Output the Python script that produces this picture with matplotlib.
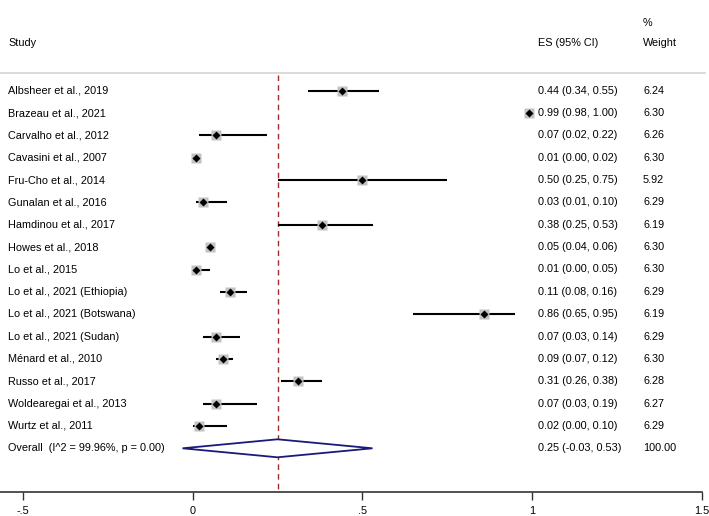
import matplotlib.pyplot as plt
import matplotlib.transforms as mtransforms
from matplotlib.patches import Polygon

# data
studies = ["Albsheer et al., 2019", "Brazeau et al., 2021", "Carvalho et al., 2012",
           "Cavasini et al., 2007", "Fru-Cho et al., 2014", "Gunalan et al., 2016",
           "Hamdinou et al., 2017", "Howes et al., 2018", "Lo et al., 2015",
           "Lo et al., 2021 (Ethiopia)", "Lo et al., 2021 (Botswana)", "Lo et al., 2021 (Sudan)",
           "Ménard et al., 2010", "Russo et al., 2017", "Woldearegai et al., 2013",
           "Wurtz et al., 2011"]
es = [0.44, 0.99, 0.07, 0.01, 0.50, 0.03, 0.38, 0.05, 0.01, 0.11, 0.86, 0.07, 0.09, 0.31, 0.07, 0.02]
lo = [0.34, 0.98, 0.02, 0.00, 0.25, 0.01, 0.25, 0.04, 0.00, 0.08, 0.65, 0.03, 0.07, 0.26, 0.03, 0.00]
hi = [0.55, 1.00, 0.22, 0.02, 0.75, 0.10, 0.53, 0.06, 0.05, 0.16, 0.95, 0.14, 0.12, 0.38, 0.19, 0.10]
weights = [6.24, 6.30, 6.26, 6.30, 5.92, 6.29, 6.19, 6.30, 6.30, 6.29, 6.19, 6.29, 6.30, 6.28, 6.27, 6.29]
overall_es, overall_lo, overall_hi = 0.25, -0.03, 0.53
overall_label = "Overall  (I^2 = 99.96%, p = 0.00)"
overall_weight = "100.00"
xticks = [-0.5, 0, 0.5, 1, 1.5]
xticklabels = ["-.5", "0", ".5", "1", "1.5"]

plt.rcParams['font.family'] = ['Liberation Sans', 'DejaVu Sans']
fs = 7.8

fig = plt.figure(figsize=(7.09, 5.16), dpi=100)
ax = fig.add_axes([0, 0, 1, 1])
# pixel-like vertical scale, x in effect-size units
x0px, scale = 192.7, 339.3
ax.set_xlim(-x0px / scale, (709 - x0px) / scale)
ax.set_ylim(516, 0)

row0, step = 90.7, 22.35
rows = [row0 + step * i for i in range(len(studies))]
yo = row0 + step * len(studies)

trans = mtransforms.blended_transform_factory(ax.transAxes, ax.transData)
col_study, col_es, col_w = 8 / 709, 538 / 709, 643 / 709

# header
ax.text(col_study, 43, "Study", transform=trans, fontsize=fs, va='center')
ax.text(col_es, 43, "ES (95% CI)", transform=trans, fontsize=fs, va='center')
ax.text(col_w, 23, "%", transform=trans, fontsize=fs, va='center')
ax.text(col_w, 43, "Weight", transform=trans, fontsize=fs, va='center')
ax.plot([0, 0.995], [73, 73], transform=trans, color='#d4d4d4', lw=1.2)

# reference line at overall estimate
ax.plot([overall_es, overall_es], [75, 492], color='#a52a2a', lw=1, ls=(0, (4, 3)))

for name, e, l, h, w, y in zip(studies, es, lo, hi, weights, rows):
    ax.plot([l, h], [y, y], color='black', lw=1.5, solid_capstyle='butt')
    ax.plot(e, y, marker='s', ms=w * 1.1, color='#c2c2c2', mec='none')
    ax.plot(e, y, marker='D', ms=3.8, color='black', mec='none')
    ax.text(col_study, y, name, transform=trans, fontsize=fs, va='center')
    ax.text(col_es, y, f"{e:.2f} ({l:.2f}, {h:.2f})", transform=trans, fontsize=fs, va='center')
    ax.text(col_w, y, f"{w:.2f}", transform=trans, fontsize=fs, va='center')

# overall diamond
dia = Polygon([[overall_lo, yo], [overall_es, yo - 9], [overall_hi, yo], [overall_es, yo + 9]],
              closed=True, facecolor='white', edgecolor='#1a1a7a', lw=1.3, zorder=3)
ax.add_patch(dia)
ax.text(col_study, yo, overall_label, transform=trans, fontsize=fs, va='center')
ax.text(col_es, yo, f"{overall_es:.2f} ({overall_lo:.2f}, {overall_hi:.2f})", transform=trans, fontsize=fs, va='center')
ax.text(col_w, yo, overall_weight, transform=trans, fontsize=fs, va='center')

# x axis
for s in ['top', 'right', 'left']:
    ax.spines[s].set_visible(False)
ax.spines['bottom'].set_position(('data', 492))
ax.spines['bottom'].set_bounds(-x0px / scale, 1.5)
ax.spines['bottom'].set_color('#333333')
ax.spines['bottom'].set_linewidth(1.2)
ax.set_xticks(xticks)
ax.set_xticklabels(xticklabels, fontsize=fs)
ax.tick_params(axis='x', length=6, width=1, color='#333333', pad=4)
ax.set_yticks([])

fig.savefig("out.png", dpi=100)
